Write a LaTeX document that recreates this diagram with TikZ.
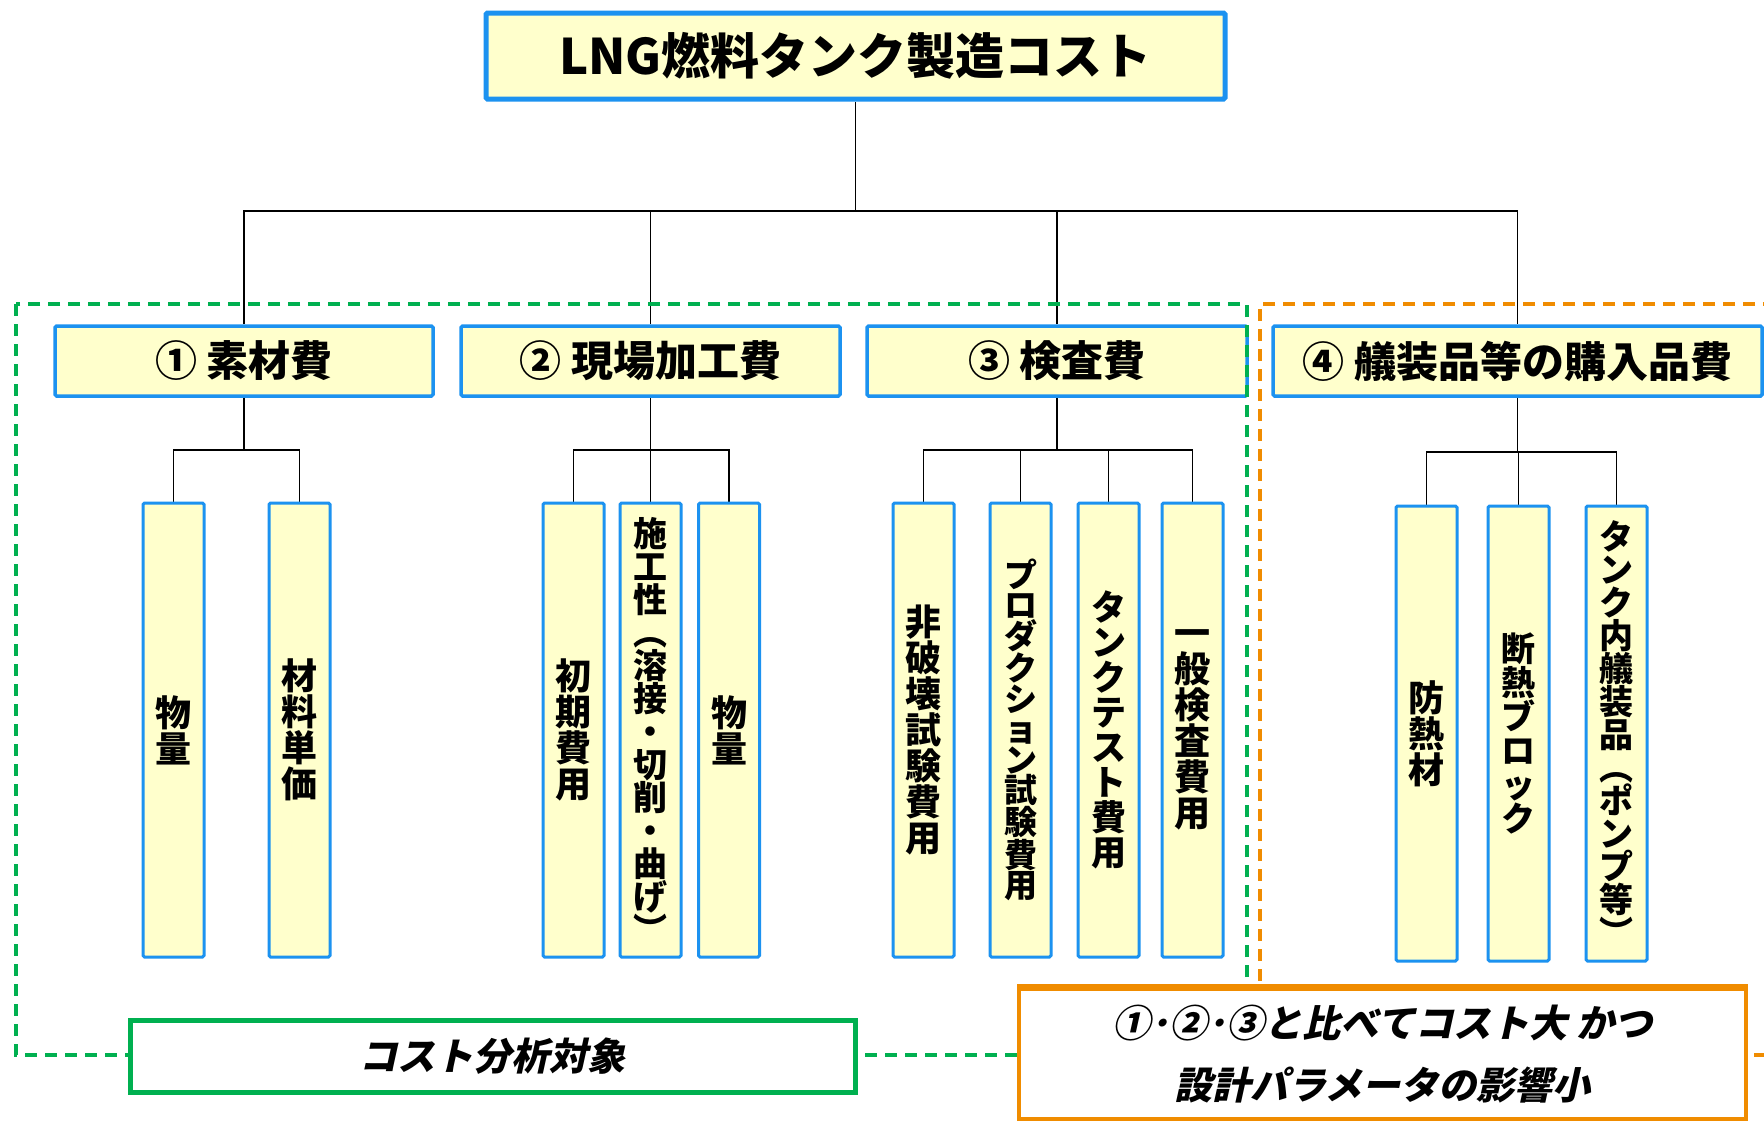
\documentclass[tikz,border=0pt]{standalone}
\usepackage{fontspec}
\setmainfont{Noto Sans CJK JP}
\newfontfamily\vjp{Noto Sans CJK JP}
\newfontfamily\itjp{Noto Sans CJK JP}[FakeSlant=0.22]
\definecolor{bblue}{RGB}{28,146,240}
\definecolor{byel}{RGB}{255,255,204}
\definecolor{ggreen}{RGB}{0,176,80}
\definecolor{oorange}{RGB}{240,140,0}
\pgfdeclarelayer{bg}
\pgfsetlayers{bg,main}
\tikzset{
  boxb/.style={draw=bblue, fill=byel, line width=3.5pt, rounded corners=1.5pt, inner sep=0pt},
  lvl/.style={boxb, minimum height=70pt, font=\fontsize{42}{42}\selectfont\bfseries},
  kid/.style={boxb, line width=3pt, minimum width=61pt, minimum height=454pt, align=center},
  vt/.style={font=\fontsize{#1}{#1}\selectfont\vjp\bfseries},
  conn/.style={draw=black, line width=1.5pt},
  gdash/.style={draw=ggreen, line width=3.5pt, dash pattern=on 12pt off 8pt},
  odash/.style={draw=oorange, line width=3.5pt, dash pattern=on 12pt off 8pt},
}
\begin{document}
\begin{tikzpicture}[x=1pt,y=-1pt]
\useasboundingbox (0,0) rectangle (1764,1122);
% title
\node[boxb, line width=5pt, minimum width=739pt, minimum height=86pt,
      font=\fontsize{49}{49}\selectfont\bfseries] (t) at (855.5,56) {LNG燃料タンク製造コスト};
% level 1
\node[lvl, minimum width=378pt] (a1) at (244,361) {① 素材費};
\node[lvl, minimum width=379pt] (a2) at (650.5,361) {② 現場加工費};
\node[lvl, minimum width=380pt] (a3) at (1057,361) {③ 検査費};
\node[lvl, minimum width=489pt] (a4) at (1517.5,361) {④ 艤装品等の購入品費};
% level 2
\node[kid, vt=36] (k11) at (173.5,730) {物\\量};
\node[kid, vt=36] (k12) at (299.5,730) {材\\料\\単\\価};
\node[kid, vt=36] (k21) at (573.5,730) {初\\期\\費\\用};
\node[kid, font=\fontsize{34}{33}\selectfont\vjp\bfseries] (k22) at (650.5,730) {施\\工\\性\\︵\\溶\\接\\・\\切\\削\\・\\曲\\げ\\︶};
\node[kid, vt=36] (k23) at (729,730) {物\\量};
\node[kid, vt=36] (k31) at (923.5,730) {非\\破\\壊\\試\\験\\費\\用};
\node[kid, font=\fontsize{33}{30.5}\selectfont\vjp\bfseries] (k32) at (1020.5,730) {プ\\ロ\\ダ\\ク\\シ\\ョ\\ン\\試\\験\\費\\用};
\node[kid, vt=35] (k33) at (1108.5,730) {タ\\ン\\ク\\テ\\ス\\ト\\費\\用};
\node[kid, vt=36] (k34) at (1192.5,730) {一\\般\\検\\査\\費\\用};
\node[kid, vt=36, minimum height=455pt] (k41) at (1426.5,733.5) {防\\熱\\材};
\node[kid, vt=34, minimum height=455pt] (k42) at (1518.5,733.5) {断\\熱\\ブ\\ロ\\ッ\\ク};
\node[kid, font=\fontsize{34}{33}\selectfont\vjp\bfseries, minimum height=455pt] (k43) at (1616.5,733.5) {タ\\ン\\ク\\内\\艤\\装\\品\\︵\\ポ\\ン\\プ\\等\\︶};
% connectors
\coordinate (j0) at (855.5,211);
\coordinate (y2) at (0,450);
\coordinate (y4) at (0,452);
\begin{pgfonlayer}{bg}
\fill[white] (0,0) rectangle (1764,1122);
\draw[conn] (t.south) -- (j0);
\draw[conn] (a1.north) -- (a1.north |- j0) -- (a4.north |- j0) -- (a4.north);
\draw[conn] (a2.north) -- (a2.north |- j0);
\draw[conn] (a3.north) -- (a3.north |- j0);
% group 1
\draw[conn] (a1.south) -- (a1.south |- y2);
\draw[conn] (k11.north) -- (k11.north |- y2) -- (k12.north |- y2) -- (k12.north);
% group 2
\draw[conn] (a2.south) -- (a2.south |- y2);
\draw[conn] (k21.north) -- (k21.north |- y2) -- (k23.north |- y2) -- (k23.north);
\draw[conn] (k22.north) -- (k22.north |- y2);
% group 3
\draw[conn] (a3.south) -- (a3.south |- y2);
\draw[conn] (k31.north) -- (k31.north |- y2) -- (k34.north |- y2) -- (k34.north);
\draw[conn] (k32.north) -- (k32.north |- y2);
\draw[conn] (k33.north) -- (k33.north |- y2);
% group 4
\draw[conn] (a4.south) -- (a4.south |- y4);
\draw[conn] (k41.north) -- (k41.north |- y4) -- (k43.north |- y4) -- (k43.north);
\draw[conn] (k42.north) -- (k42.north |- y4);
\end{pgfonlayer}
% dashed groups
\draw[gdash] (16,304) rectangle (1247,1055);
\draw[odash] (1775,304) -- (1260,304) -- (1260,1055) -- (1775,1055);
% bottom labels
\node[draw=ggreen, line width=5pt, fill=white, minimum width=725pt, minimum height=72pt, inner sep=0pt,
      font=\fontsize{38}{38}\selectfont\itjp\bfseries] (g) at (492.5,1056) {コスト分析対象};
\node[draw=oorange, line width=3.5pt, fill=white, minimum width=727pt, minimum height=130pt, inner sep=0pt, align=center,
      font=\fontsize{38}{62}\selectfont\itjp\bfseries] (o) at (1382.5,1054) {①･②･③と比べてコスト大 かつ\\設計パラメータの影響小};
\draw[draw=oorange, line width=6pt] (o.north west) -- (o.north east);
\end{tikzpicture}
\end{document}
